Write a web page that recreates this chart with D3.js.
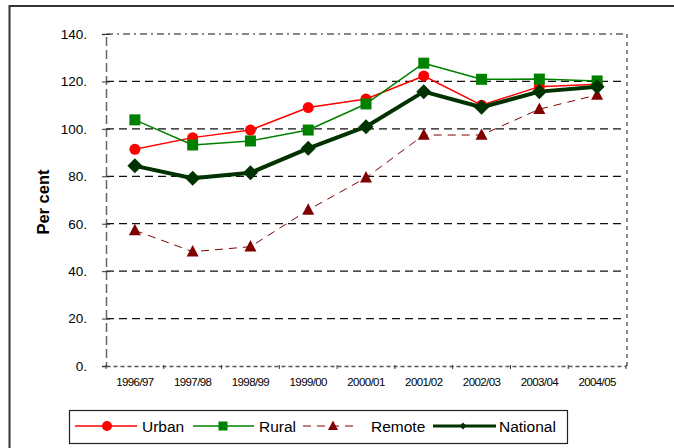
<!DOCTYPE html>
<html>
<head>
<meta charset="utf-8">
<script src="https://cdn.jsdelivr.net/npm/d3@7"></script>
<style>
  html, body { margin: 0; padding: 0; background: #fff; }
  svg { display: block; font-family: Arial, "Liberation Sans", sans-serif; }
</style>
</head>
<body>
<svg id="chart" width="674" height="448"></svg>
<script>
// Financial years shown on the horizontal axis
const years = ["1996/97", "1997/98", "1998/99", "1999/00", "2000/01", "2001/02", "2002/03", "2003/04", "2004/05"];

// Per cent values by area type
const urban    = [91.4, 96.3, 99.5, 109.0, 112.6, 122.3, 110.0, 117.8, 118.8];
const rural    = [103.8, 93.2, 94.9, 99.5, 110.5, 127.7, 120.9, 121.0, 120.2];
const remote   = [57.2, 48.2, 50.3, 65.8, 79.4, 97.4, 97.4, 108.3, 114.3];
const national = [84.4, 79.2, 81.5, 91.8, 100.9, 115.7, 109.1, 115.7, 117.8];

// Vertical axis tick values
const yTicks = [0, 20, 40, 60, 80, 100, 120, 140];

const svg = d3.select("#chart");

// Outer frame (runs off the right and bottom edges)
svg.append("path")
  .attr("d", "M9.5,460 L9.5,6 L690,6")
  .attr("fill", "none")
  .attr("stroke", "#333")
  .attr("stroke-width", 2);

const x = d3.scaleBand().domain(years).range([106, 626]);
const y = d3.scaleLinear().domain([0, 140]).range([366, 34]);
const cx = d => x(d) + x.bandwidth() / 2;

// Horizontal gridlines
svg.append("g")
  .selectAll("line")
  .data(yTicks.filter(v => v > 0 && v < 140))
  .join("line")
  .attr("x1", 106).attr("x2", 626)
  .attr("y1", d => y(d)).attr("y2", d => y(d))
  .attr("stroke", "#111")
  .attr("stroke-width", 1.3)
  .attr("stroke-dasharray", "8,5");

// Plot frame: top and right edges
svg.append("line")
  .attr("x1", 106).attr("x2", 627)
  .attr("y1", y(140)).attr("y2", y(140))
  .attr("stroke", "#888").attr("stroke-width", 2)
  .attr("stroke-dasharray", "7,4,2,4");
svg.append("line")
  .attr("x1", 627).attr("x2", 627)
  .attr("y1", y(140)).attr("y2", y(0))
  .attr("stroke", "#888").attr("stroke-width", 2)
  .attr("stroke-dasharray", "4,4");

// Y axis
const yAxis = svg.append("g")
  .attr("transform", "translate(106,0)")
  .call(d3.axisLeft(y).tickValues(yTicks).tickFormat(d => d + ".").tickSize(4).tickPadding(15));
yAxis.select(".domain")
  .attr("stroke", "#666").attr("stroke-width", 1.5).attr("stroke-dasharray", "9,4");
yAxis.selectAll(".tick line").attr("x2", -4).attr("x1", 4).attr("stroke", "#333");
yAxis.selectAll(".tick text")
  .attr("font-size", 13.5).attr("fill", "#000")
  .attr("font-family", "Arial, 'Liberation Sans', sans-serif");

// X axis
const xAxis = svg.append("g")
  .attr("transform", `translate(0,${y(0)})`)
  .call(d3.axisBottom(x).tickSize(0).tickPadding(12));
xAxis.select(".domain")
  .attr("stroke", "#555").attr("stroke-width", 1.5).attr("stroke-dasharray", "4,3");
xAxis.selectAll(".tick text")
  .attr("font-size", 11.5).attr("fill", "#000")
  .attr("letter-spacing", -0.6)
  .attr("font-family", "Arial, 'Liberation Sans', sans-serif");

// Category boundary ticks
svg.append("g")
  .selectAll("line")
  .data(years.map(d => x(d)).concat([626]))
  .join("line")
  .attr("x1", d => d).attr("x2", d => d)
  .attr("y1", y(0) - 1).attr("y2", y(0) + 3)
  .attr("stroke", "#333");

// Y axis title
svg.append("text")
  .attr("transform", `translate(49,202) rotate(-90)`)
  .attr("text-anchor", "middle")
  .attr("font-size", 16.5)
  .attr("font-weight", "bold")
  .text("Per cent");

// Marker drawing helpers
const marker = {
  circle: (g, s) => g.append("circle").attr("r", s / 2),
  square: (g, s) => g.append("rect").attr("x", -s / 2).attr("y", -s / 2).attr("width", s).attr("height", s),
  triangle: (g, s) => g.append("path").attr("d", `M0,${-s * 0.55} L${s / 2},${s * 0.4} L${-s / 2},${s * 0.4} Z`),
  diamond: (g, s) => g.append("path").attr("d", `M0,${-s / 2} L${s / 2},0 L0,${s / 2} L${-s / 2},0 Z`)
};

const styles = {
  Urban:    { values: urban,    color: "#ff0000", width: 1.5, dash: null,  shape: "circle",   size: 11, lsize: 10 },
  Rural:    { values: rural,    color: "#008000", width: 1.5, dash: null,  shape: "square",   size: 11, lsize: 9 },
  Remote:   { values: remote,   color: "#800000", width: 1,   dash: "8,6", shape: "triangle", size: 12, lsize: 10 },
  National: { values: national, color: "#003300", width: 4,   dash: null,  shape: "diamond",  size: 15, lsize: 7 }
};

const line = d3.line().x(d => cx(d.year)).y(d => y(d.value));

["Remote", "Urban", "Rural", "National"].forEach(name => {
  const s = styles[name];
  const pts = years.map((yr, i) => ({ year: yr, value: s.values[i] }));
  const g = svg.append("g");
  g.append("path")
    .attr("d", line(pts))
    .attr("fill", "none")
    .attr("stroke", s.color)
    .attr("stroke-width", s.width)
    .attr("stroke-linejoin", "round")
    .attr("stroke-dasharray", s.dash);
  pts.forEach(p => {
    const mg = g.append("g").attr("transform", `translate(${cx(p.year)},${y(p.value)})`);
    marker[s.shape](mg, s.size).attr("fill", s.color);
  });
});

// Legend
const legend = svg.append("g");
legend.append("rect")
  .attr("x", 69.5).attr("y", 410.5).attr("width", 498).attr("height", 33)
  .attr("fill", "#fff").attr("stroke", "#222").attr("stroke-width", 1.2);

const legendItems = [
  { name: "Urban",    x1: 75,  x2: 137, mx: 107, tx: 142 },
  { name: "Rural",    x1: 193, x2: 254, mx: 223, tx: 259 },
  { name: "Remote",   x1: 303, x2: 358, mx: 333, tx: 371 },
  { name: "National", x1: 433, x2: 496, mx: 463, tx: 499 }
];
legendItems.forEach(it => {
  const s = styles[it.name];
  legend.append("line")
    .attr("x1", it.x1).attr("x2", it.x2).attr("y1", 426).attr("y2", 426)
    .attr("stroke", s.color)
    .attr("stroke-width", s.width === 4 ? 3 : s.width)
    .attr("stroke-dasharray", s.dash);
  const mg = legend.append("g").attr("transform", `translate(${it.mx},426)`);
  marker[s.shape](mg, s.lsize).attr("fill", s.color);
  legend.append("text")
    .attr("x", it.tx).attr("y", 431.5)
    .attr("font-size", 15.5)
    .text(it.name);
});
</script>
</body>
</html>
